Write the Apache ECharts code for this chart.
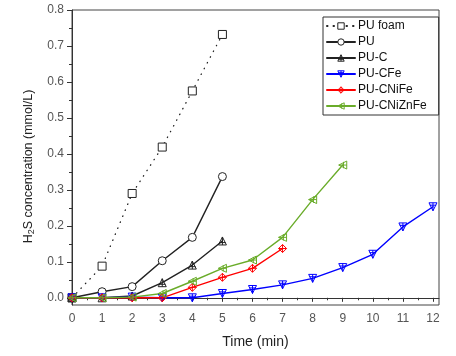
<!DOCTYPE html>
<html><head><meta charset="utf-8">
<script src="https://cdn.jsdelivr.net/npm/echarts@6/dist/echarts.min.js"></script>
<style>html,body{margin:0;padding:0;background:#fff}#c{width:456px;height:356px}</style>
</head><body><div id="c"></div>
<script>
const xFoam = [0,1,2,3,4,5];
const yFoam = [0,0.088,0.29,0.419,0.575,0.732];
const xPU = [0,1,2,3,4,5];
const yPU = [0,0.017,0.031,0.103,0.168,0.337];
const xPUC = [0,1,2,3,4,5];
const yPUC = [0,0,0.005,0.042,0.091,0.158];
const xCFe = [0,1,2,3,4,5,6,7,8,9,10,11,12];
const yCFe = [0,0,0.002,0,0,0.012,0.023,0.036,0.054,0.084,0.121,0.197,0.253];
const xCNiFe = [0,1,2,3,4,5,6,7];
const yCNiFe = [0,0,0,0,0.029,0.057,0.082,0.137];
const xZn = [0,1,2,3,4,5,6,7,8,9];
const yZn = [0,0,0.002,0.012,0.046,0.082,0.105,0.168,0.273,0.369];
const xMajor = [0,1,2,3,4,5,6,7,8,9,10,11,12];
const xMinor = [0.5,1.5,2.5,3.5,4.5,5.5,6.5,7.5,8.5,9.5,10.5,11.5];
const yMajor = [0,0.1,0.2,0.3,0.4,0.5,0.6,0.7,0.8];
const yMinor = [0.05,0.15,0.25,0.35,0.45,0.55,0.65,0.75];
const names = ['PU foam','PU','PU-C','PU-CFe','PU-CNiFe','PU-CNiZnFe'];

const pair = (xs, ys) => xs.map((x,i)=>[x, ys[i]]);
const FONT = 'Arial, "Liberation Sans", sans-serif';
const symTriUp = 'path://M5 0 L10 10 L0 10 Z M5 0 L5 10 M1 7 L9 7';
const symTriDown = 'path://M0 0 L10 0 L5 10 Z M5 0 L5 10 M1 3 L9 3';
const symDiamond = 'path://M5 0 L10 5 L5 10 L0 5 Z M5 0 L5 10 M0 5 L10 5';
const symTriLeft = 'path://M0 5 L10 0 L10 10 Z M0 5 L10 5 M6 1 L6 9';
const strokes = ['#222222','#222222','#222222','#0000ff','#ff0000','#6aac2a'];
const fills = ['#ffffff','#ffffff','rgba(255,255,255,0)','rgba(255,255,255,0)','rgba(255,255,255,0)','rgba(255,255,255,0)'];

function ser(i, data, symbol, lineType) {
  const color = strokes[i];
  return {
    name: names[i], type: 'line', data, symbol, symbolSize: 8,
    xAxisIndex: 0, yAxisIndex: 0,
    lineStyle: { color, width: lineType ? 1.3 : 1.4, type: lineType || 'solid', cap: 'round' },
    itemStyle: { color: fills[i], borderColor: color, borderWidth: 1 },
    emphasis: { disabled: true },
    animation: false
  };
}

const chart = echarts.init(document.getElementById('c'), null, { renderer: 'canvas' });
chart.setOption({
  animation: false,
  textStyle: { fontFamily: FONT },
  grid: { left: 72, right: 17, top: 10, bottom: 51, show: true, borderColor: '#444', borderWidth: 1, backgroundColor: 'transparent' },
  legend: {
    data: names.map((n, i) => ({ name: n, itemStyle: { color: fills[i], borderColor: strokes[i], borderWidth: 1 } })),
    orient: 'vertical', left: 323, top: 17,
    itemWidth: 28, itemHeight: 8, itemGap: 4,
    padding: [3, 12, 3, 3],
    borderColor: '#333', borderWidth: 1,
    textStyle: { fontSize: 12, color: '#111', fontFamily: FONT, padding: [0,0,0,-2] },
    selectedMode: false
  },
  xAxis: [{
    type: 'value', min: 0, max: 12.2,
    name: 'Time (min)', nameLocation: 'middle', nameGap: 30,
    nameTextStyle: { fontSize: 14, color: '#222', fontFamily: FONT },
    axisLine: { show: true, lineStyle: { color: '#333', width: 1 } },
    axisTick: { show: true, customValues: xMajor, length: 4, lineStyle: { color: '#333' } },
    axisLabel: { customValues: xMajor, margin: 8, fontSize: 12, color: '#555', fontFamily: FONT },
    splitLine: { show: false }
  }, {
    type: 'value', min: 0, max: 12.2, position: 'bottom',
    axisLine: { show: false },
    axisTick: { show: true, customValues: xMinor, length: 2.5, lineStyle: { color: '#333' } },
    axisLabel: { show: false },
    splitLine: { show: false }
  }],
  yAxis: [{
    type: 'value', min: -0.02, max: 0.8,
    name: 'H{sub|2}S concentration (mmol/L)', nameLocation: 'middle', nameGap: 33,
    nameTextStyle: { fontSize: 12.5, color: '#222', fontFamily: FONT, padding: [0, 18, 0, 0],
      rich: { sub: { fontSize: 9, fontFamily: FONT, color: '#222', padding: [6, 0, 0, 0] } } },
    axisLine: { show: true, lineStyle: { color: '#333', width: 1 } },
    axisTick: { show: true, customValues: yMajor, length: 5, lineStyle: { color: '#333' } },
    axisLabel: { customValues: yMajor, margin: 8, fontSize: 12, color: '#555', fontFamily: FONT,
      formatter: v => v.toFixed(1) },
    splitLine: { show: false }
  }, {
    type: 'value', min: -0.02, max: 0.8, position: 'left',
    axisLine: { show: false },
    axisTick: { show: true, customValues: yMinor, length: 3, lineStyle: { color: '#333' } },
    axisLabel: { show: false },
    splitLine: { show: false }
  }],
  series: [
    ser(0, pair(xFoam, yFoam), 'rect', [0.5, 6]),
    ser(1, pair(xPU, yPU), 'circle'),
    ser(2, pair(xPUC, yPUC), symTriUp),
    ser(3, pair(xCFe, yCFe), symTriDown),
    ser(4, pair(xCNiFe, yCNiFe), symDiamond),
    ser(5, pair(xZn, yZn), symTriLeft)
  ]
});
</script></body></html>
